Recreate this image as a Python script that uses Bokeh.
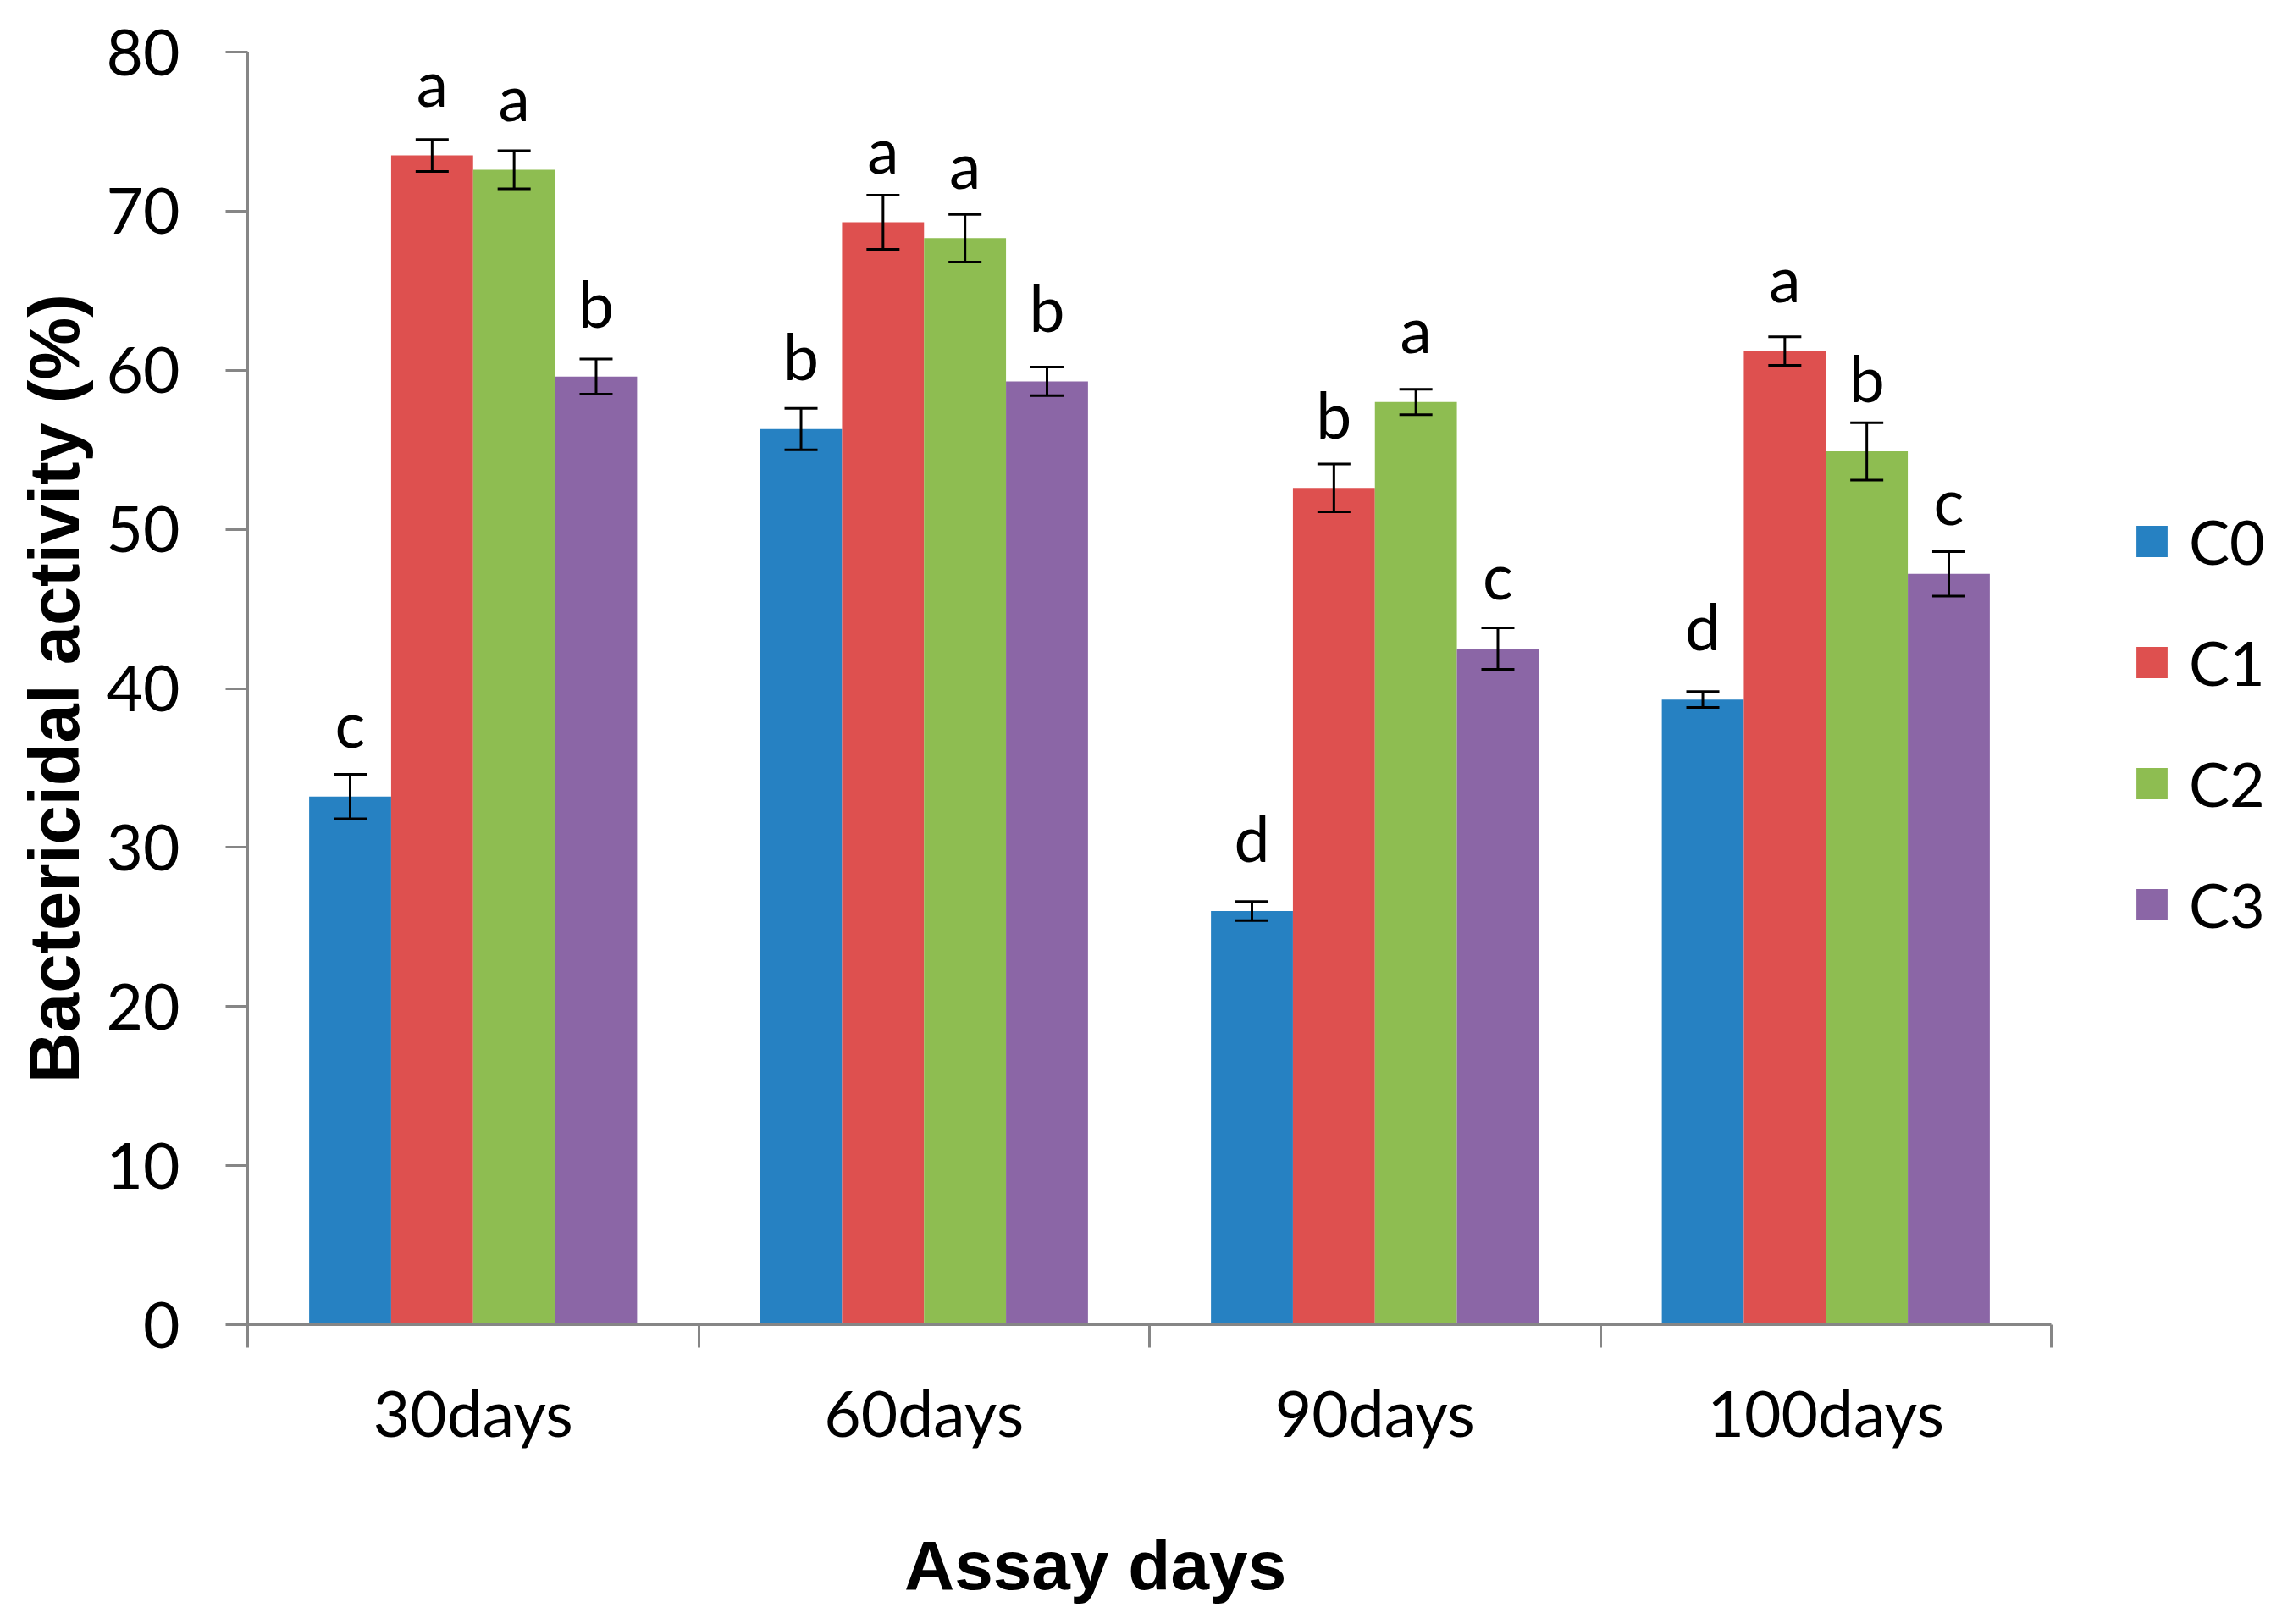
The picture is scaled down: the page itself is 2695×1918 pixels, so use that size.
import math
from bokeh.plotting import figure
from bokeh.models import (ColumnDataSource, FixedTicker, Range1d, Whisker, TeeHead,
                          Legend, LegendItem, Label)
from bokeh.core.properties import value
from bokeh.embed import file_html
from bokeh.resources import INLINE

# ---- data ----
categories = ["30days", "60days", "90days", "100days"]
series = ["C0", "C1", "C2", "C3"]
C0 = [33.2, 56.3, 26.0, 39.3]
C1 = [73.5, 69.3, 52.6, 61.2]
C2 = [72.6, 68.3, 58.0, 54.9]
C3 = [59.6, 59.3, 42.5, 47.2]
C0_err = [1.4, 1.3, 0.6, 0.5]
C1_err = [1.0, 1.7, 1.5, 0.9]
C2_err = [1.2, 1.5, 0.8, 1.8]
C3_err = [1.1, 0.9, 1.3, 1.4]
C0_sig = ["c", "b", "d", "d"]
C1_sig = ["a", "a", "b", "a"]
C2_sig = ["a", "a", "a", "b"]
C3_sig = ["b", "b", "c", "c"]
y_ticks = [0, 10, 20, 30, 40, 50, 60, 70, 80]
colors = ["#2681C2", "#DE504F", "#8EBD51", "#8B66A6"]

values = [C0, C1, C2, C3]
errors = [C0_err, C1_err, C2_err, C3_err]
sigs = [C0_sig, C1_sig, C2_sig, C3_sig]

TICK_FONT = "Lato"
TITLE_FONT = "Liberation Sans"
AXIS_GRAY = "#868686"

# canvas and value-area geometry (pixels)
W, H = 2679, 1902
LEFT, TOP = 292, 61            # where the 0..4 x 0..80 area starts
PLOT_W, PLOT_H = 2130, 1503    # size of that area
n = len(categories)
ymax = 80.0
px_x = PLOT_W / n              # pixels per category
px_y = PLOT_H / ymax           # pixels per unit
x_range = Range1d(-LEFT / px_x, n + (W - LEFT - PLOT_W) / px_x)
y_range = Range1d(-(H - TOP - PLOT_H) / px_y, ymax + TOP / px_y)

p = figure(width=W, height=H, output_backend="svg", toolbar_location=None,
           x_range=x_range, y_range=y_range,
           min_border_left=0, min_border_right=0, min_border_top=0,
           min_border_bottom=0)
p.outline_line_color = None
p.xgrid.visible = False
p.ygrid.visible = False

bw = 1.0 / 5.5
items = []
for j, name in enumerate(series):
    xs = [i + 0.5 + (j - 1.5) * bw for i in range(n)]
    v = values[j]
    e = errors[j]
    src = ColumnDataSource(data=dict(
        x=xs, top=v,
        upper=[a + b for a, b in zip(v, e)],
        lower=[a - b for a, b in zip(v, e)],
        sig=sigs[j]))
    r = p.vbar(x="x", top="top", width=bw, bottom=0, source=src,
               fill_color=colors[j], line_color=None)
    items.append(LegendItem(label=name, renderers=[r]))
    w = Whisker(source=src, base="x", upper="upper", lower="lower",
                line_width=3, line_color="black", level="overlay",
                upper_head=TeeHead(size=39, line_width=3, line_color="black"),
                lower_head=TeeHead(size=39, line_width=3, line_color="black"))
    p.add_layout(w)
    p.text(x="x", y="top", text="sig", source=src, y_offset=-87,
           text_font=value(TICK_FONT), text_font_size="75px",
           text_align="center", text_baseline="middle", text_color="black")

# y axis at x = 0
yax = p.yaxis[0]
yax.fixed_location = 0
yax.ticker = FixedTicker(ticks=y_ticks)
yax.bounds = (0, ymax)
yax.axis_line_color = AXIS_GRAY
yax.axis_line_width = 3
yax.major_tick_line_color = AXIS_GRAY
yax.major_tick_line_width = 3
yax.major_tick_out = 26
yax.major_tick_in = 0
yax.minor_tick_line_color = None
yax.major_label_text_font = TICK_FONT
yax.major_label_text_font_size = "75px"
yax.major_label_text_color = "black"
yax.major_label_standoff = 54

# x axis at y = 0: labels at category centres, ticks at category boundaries
xax = p.xaxis[0]
centres = [i + 0.5 for i in range(n)]
bounds = [float(i) for i in range(n + 1)]
xax.fixed_location = 0
xax.bounds = (0, n)
xax.ticker = FixedTicker(ticks=centres, minor_ticks=bounds)
xax.major_label_overrides = {c: lab for c, lab in zip(centres, categories)}
xax.axis_line_color = AXIS_GRAY
xax.axis_line_width = 3
xax.major_tick_line_color = None
xax.major_tick_out = 0
xax.major_tick_in = 0
xax.minor_tick_line_color = AXIS_GRAY
xax.minor_tick_line_width = 3
xax.minor_tick_out = 27
xax.minor_tick_in = 0
xax.major_label_text_font = TICK_FONT
xax.major_label_text_font_size = "75px"
xax.major_label_text_color = "black"
xax.major_label_standoff = 31

# axis titles
p.add_layout(Label(x=-228 / px_x, y=ymax / 2, text="Bactericidal activity (%)",
                   angle=math.pi / 2, text_font=TITLE_FONT, text_font_style="bold",
                   text_font_size="83px", text_align="center",
                   text_baseline="middle", text_color="black"))
p.add_layout(Label(x=1.88, y=-15.12, text="Assay days",
                   text_font=TITLE_FONT, text_font_style="bold",
                   text_font_size="82px", text_align="center",
                   text_baseline="middle", text_color="black"))

legend = Legend(items=items, location=(2518, 791), orientation="vertical",
                glyph_width=46, glyph_height=46, label_standoff=21,
                label_text_font=TICK_FONT, label_text_font_size="72px",
                label_text_color="black", padding=0, margin=0, spacing=57,
                border_line_color=None, background_fill_alpha=0)
p.add_layout(legend, "center")

open("out.html", "w").write(file_html(p, INLINE))
